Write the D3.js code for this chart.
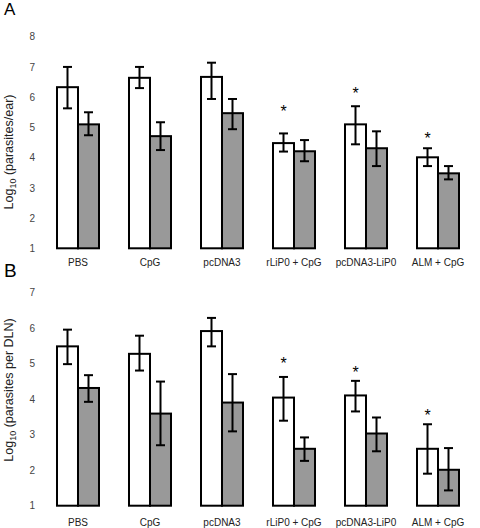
<!DOCTYPE html>
<html><head><meta charset="utf-8">
<script src="https://cdn.jsdelivr.net/npm/d3@7"></script>
<style>body{margin:0;background:#fff}svg{display:block}text{font-family:"Liberation Sans",Arial,sans-serif}</style>
</head><body><div id="c"></div>
<script>
const categories = ["PBS","CpG","pcDNA3","rLiP0 + CpG","pcDNA3-LiP0","ALM + CpG"];
const seriesKeys = ["white","gray"];
// Panel A: Log10 (parasites/ear)
const aWhite = [6.33, 6.64, 6.67, 4.48, 5.10, 4.01];
const aWhiteLo = [5.63, 6.30, 5.94, 4.20, 4.44, 3.72];
const aWhiteHi = [7.00, 7.00, 7.14, 4.80, 5.70, 4.31];
const aGray = [5.10, 4.71, 5.47, 4.21, 4.31, 3.48];
const aGrayLo = [4.74, 4.25, 4.94, 3.88, 3.72, 3.28];
const aGrayHi = [5.50, 5.17, 5.94, 4.58, 4.87, 3.72];
const aStars = [null, null, null, 5.67, 6.26, 4.77];
const aTicks = [1,2,3,4,5,6,7,8];
// Panel B: Log10 (parasites per DLN)
const bWhite = [5.48, 5.27, 5.91, 4.04, 4.10, 2.60];
const bWhiteLo = [4.98, 4.80, 5.48, 3.39, 3.65, 1.90];
const bWhiteHi = [5.95, 5.78, 6.28, 4.62, 4.51, 3.29];
const bGray = [4.31, 3.59, 3.90, 2.60, 3.03, 2.01];
const bGrayLo = [3.92, 2.70, 3.09, 2.26, 2.53, 1.43];
const bGrayHi = [4.67, 4.49, 4.70, 2.92, 3.48, 2.62];
const bStars = [null, null, null, 5.12, 4.87, 3.67];
const bTicks = [1,2,3,4,5,6,7];

const W = 480, H = 528;
const svg = d3.select("#c").append("svg").attr("width", W).attr("height", H);

const x = d3.scaleBand().domain(categories).range([42, 474]).paddingInner(0.4167).paddingOuter(0.2083);
const xs = d3.scaleBand().domain(seriesKeys).range([0, x.bandwidth()]);
const fills = {white: "#ffffff", gray: "#999999"};

function panel(opt) {
  const y = d3.scaleLinear().domain([1, opt.max]).range([opt.y0, opt.y1]);
  const g = svg.append("g");
  // panel letter
  g.append("text").attr("x", 4).attr("y", opt.letterY).attr("font-size", opt.letterSize).attr("fill", "#000").text(opt.letter);
  // y tick labels
  const ax = d3.axisLeft(y).tickValues(opt.ticks).tickSize(0).tickPadding(0).tickFormat(d3.format("d"));
  const axg = g.append("g").attr("transform", "translate(35,0)").call(ax);
  axg.select(".domain").remove();
  axg.selectAll("text").attr("font-size", 10).attr("fill", "#444").attr("font-family", '"Liberation Sans",Arial,sans-serif');
  // y label
  const lab = g.append("text").attr("transform", `translate(13,${opt.labelC}) rotate(-90)`)
    .attr("text-anchor", "middle").attr("font-size", 12.5).attr("fill", "#222");
  lab.append("tspan").text("Log");
  lab.append("tspan").attr("font-size", 9).attr("dy", 3).text("10");
  lab.append("tspan").attr("dy", -3).text(" " + opt.unit);
  // x category labels
  g.selectAll(".cat").data(categories).join("text")
    .attr("x", d => x(d) + x.bandwidth() / 2).attr("y", opt.catY)
    .attr("text-anchor", "middle").attr("font-size", 10).attr("fill", "#222").text(d => d);
  // bars
  const rows = [];
  categories.forEach((c, i) => {
    rows.push({c, k: "white", v: opt.w[i], lo: opt.wl[i], hi: opt.wh[i]});
    rows.push({c, k: "gray", v: opt.g[i], lo: opt.gl[i], hi: opt.gh[i]});
  });
  g.selectAll(".bar").data(rows).join("rect")
    .attr("x", d => x(d.c) + xs(d.k)).attr("width", xs.bandwidth())
    .attr("y", d => y(d.v)).attr("height", d => y(1) - y(d.v))
    .attr("fill", d => fills[d.k]).attr("stroke", "#000").attr("stroke-width", 2);
  // error bars
  const eg = g.selectAll(".err").data(rows).join("g")
    .attr("transform", d => `translate(${x(d.c) + xs(d.k) + xs.bandwidth() / 2},0)`);
  eg.append("line").attr("y1", d => y(d.lo)).attr("y2", d => y(d.hi)).attr("stroke", "#000").attr("stroke-width", 2);
  eg.append("line").attr("x1", -4.5).attr("x2", 4.5).attr("y1", d => y(d.hi)).attr("y2", d => y(d.hi)).attr("stroke", "#000").attr("stroke-width", 2);
  eg.append("line").attr("x1", -4.5).attr("x2", 4.5).attr("y1", d => y(d.lo)).attr("y2", d => y(d.lo)).attr("stroke", "#000").attr("stroke-width", 2);
  // stars
  g.selectAll(".star").data(categories.map((c, i) => ({c, s: opt.stars[i]})).filter(d => d.s != null)).join("text")
    .attr("x", d => x(d.c) + xs("white") + xs.bandwidth() / 2).attr("y", d => y(d.s))
    .attr("dy", "0.62em").attr("text-anchor", "middle").attr("font-size", 16).attr("fill", "#000").text("*");
}

panel({letter: "A", letterY: 15, letterSize: 17, max: 8, y0: 248.3, y1: 36.7, ticks: aTicks, labelC: 152, unit: "(parasites/ear)", catY: 266,
  w: aWhite, wl: aWhiteLo, wh: aWhiteHi, g: aGray, gl: aGrayLo, gh: aGrayHi, stars: aStars});
panel({letter: "B", letterY: 277, letterSize: 19, max: 7, y0: 505.7, y1: 292.3, ticks: bTicks, labelC: 390, unit: "(parasites per DLN)", catY: 526,
  w: bWhite, wl: bWhiteLo, wh: bWhiteHi, g: bGray, gl: bGrayLo, gh: bGrayHi, stars: bStars});
</script></body></html>
